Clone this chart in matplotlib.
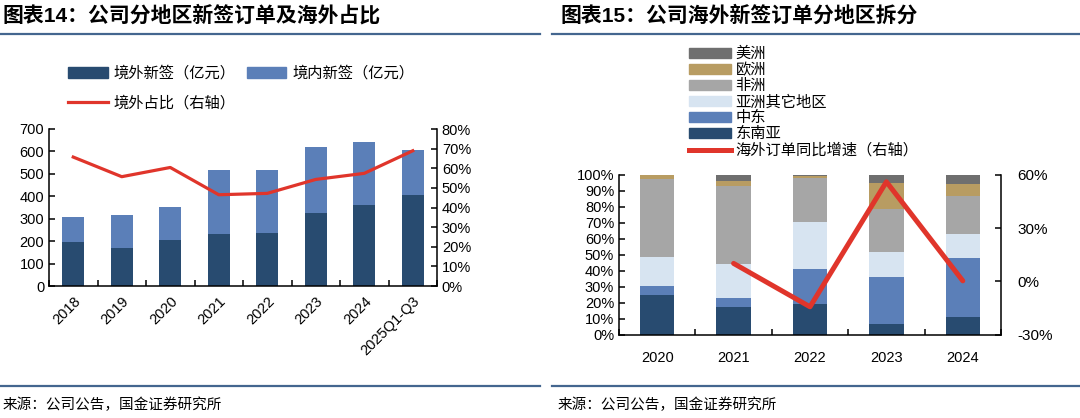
import matplotlib
matplotlib.use("Agg")
import matplotlib.pyplot as plt
import numpy as np
from matplotlib.patches import Patch
from matplotlib.lines import Line2D
from matplotlib.ticker import FuncFormatter, MultipleLocator

plt.rcParams['font.family'] = ['Liberation Sans', 'Noto Sans CJK SC', 'DejaVu Sans']

# ---------------- data: chart 14 ----------------
years14 = ["2018", "2019", "2020", "2021", "2022", "2023", "2024", "2025Q1-Q3"]
overseas = [196, 171, 205, 230, 238, 325, 360, 406]
domestic = [113, 145, 146, 289, 281, 296, 280, 202]
overseas_share = [65.7, 55.7, 60.4, 46.5, 47.2, 54.3, 57.4, 68.9]

# ---------------- data: chart 15 ----------------
years15 = ["2020", "2021", "2022", "2023", "2024"]
sea = [25.0, 17.5, 19.0, 6.5, 11.3]        # 东南亚
mideast = [5.6, 5.6, 22.0, 29.3, 36.6]     # 中东
other_asia = [18.2, 21.1, 29.4, 16.1, 15.0]  # 亚洲其它地区
africa = [48.3, 48.9, 27.7, 26.9, 23.8]    # 非洲
europe = [2.9, 2.7, 1.1, 16.2, 7.5]        # 欧洲
america = [0.0, 4.2, 0.8, 5.0, 5.8]        # 美洲
growth = [np.nan, 10.1, -14.3, 56.0, 0.3]  # 海外订单同比增速（右轴）

C_DARK = "#284b70"
C_MID = "#5b7fb8"
C_RED = "#e0352b"
C_PALE = "#d7e4f1"
C_GREY = "#a6a6a6"
C_TAN = "#b89c62"
C_DGREY = "#6f6f6f"
RULE = "#44668f"

W, H = 1080, 418
fig = plt.figure(figsize=(W / 100, H / 100), dpi=100)

def fx(px):
    return px / W

def fy(py):
    return (H - py) / H

TICK_FS = 10.5
LEG_FS = 11

def style_axes(ax):
    ax.spines['top'].set_visible(False)
    for s in ['left', 'right', 'bottom']:
        ax.spines[s].set_linewidth(1.1)
    ax.tick_params(direction='in', length=4, width=1.1, labelsize=TICK_FS)

# ---------------- chart 14 ----------------
ax1 = fig.add_axes([fx(49), fy(286), fx(437) - fx(49), fy(129) - fy(286)])
x = np.arange(len(years14))
ax1.bar(x, overseas, width=0.45, color=C_DARK, zorder=2)
ax1.bar(x, domestic, width=0.45, bottom=overseas, color=C_MID, zorder=2)
ax1.set_xlim(-0.5, len(years14) - 0.5)
ax1.set_ylim(0, 700)
ax1.yaxis.set_major_locator(MultipleLocator(100))
ax1.set_xticks(x)
ax1.set_xticklabels(years14, rotation=45, ha='right', rotation_mode='anchor', fontsize=TICK_FS)
ax1.set_xticks(np.arange(-0.5, len(years14), 1.0), minor=True)
style_axes(ax1)
ax1.tick_params(axis='x', which='major', length=0, pad=6)
ax1.tick_params(axis='x', which='minor', direction='in', length=4, width=1.1)
ax1.spines['right'].set_visible(False)

ax1r = ax1.twinx()
ax1r.plot(x, overseas_share, color=C_RED, lw=2.3, zorder=3)
ax1r.set_ylim(0, 80)
ax1r.yaxis.set_major_locator(MultipleLocator(10))
ax1r.yaxis.set_major_formatter(FuncFormatter(lambda v, p: f"{v:.0f}%"))
style_axes(ax1r)
ax1r.spines['left'].set_visible(False)
ax1r.spines['bottom'].set_visible(False)

h14 = [Patch(color=C_DARK), Line2D([], [], color=C_RED, lw=2.3), Patch(color=C_MID)]
l14 = ["境外新签（亿元）", "境外占比（右轴）", "境内新签（亿元）"]
fig.legend(h14, l14, ncol=2, loc='upper left', bbox_to_anchor=(fx(68), fy(66)),
           frameon=False, fontsize=LEG_FS, borderaxespad=0, borderpad=0,
           handlelength=2.6, handletextpad=0.4, columnspacing=0.7, labelspacing=1.0)

# ---------------- chart 15 ----------------
ax2 = fig.add_axes([fx(619), fy(334.7), fx(1001) - fx(619), fy(174.7) - fy(334.7)])
x2 = np.arange(len(years15))
stack = [(sea, C_DARK, "东南亚"), (mideast, C_MID, "中东"), (other_asia, C_PALE, "亚洲其它地区"),
         (africa, C_GREY, "非洲"), (europe, C_TAN, "欧洲"), (america, C_DGREY, "美洲")]
bottom = np.zeros(len(years15))
for vals, col, lab in stack:
    v = np.array(vals)
    ax2.bar(x2, v, width=0.45, bottom=bottom, color=col, zorder=2)
    bottom += v
ax2.set_xlim(-0.5, len(years15) - 0.5)
ax2.set_ylim(0, 100)
ax2.yaxis.set_major_locator(MultipleLocator(10))
ax2.yaxis.set_major_formatter(FuncFormatter(lambda v, p: f"{v:.0f}%"))
ax2.set_xticks(x2)
ax2.set_xticklabels(years15, fontsize=TICK_FS + 0.5)
ax2.set_xticks(np.arange(-0.5, len(years15), 1.0), minor=True)
style_axes(ax2)
ax2.tick_params(axis='x', which='major', length=0, pad=12)
ax2.tick_params(axis='x', which='minor', direction='in', length=4, width=1.1)
ax2.spines['right'].set_visible(False)

ax2r = ax2.twinx()
ax2r.plot(x2, growth, color=C_RED, lw=3.6, zorder=3, solid_capstyle='round')
ax2r.set_ylim(-30, 60)
ax2r.yaxis.set_major_locator(MultipleLocator(30))
ax2r.yaxis.set_major_formatter(FuncFormatter(lambda v, p: f"{v:.0f}%"))
style_axes(ax2r)
ax2r.tick_params(axis='y', pad=12, labelsize=TICK_FS + 0.5)
ax2r.spines['left'].set_visible(False)
ax2r.spines['bottom'].set_visible(False)

h15 = [Patch(color=c) for _, c, _ in stack[::-1]] + [Line2D([], [], color=C_RED, lw=3.6)]
l15 = [lab for _, _, lab in stack[::-1]] + ["海外订单同比增速（右轴）"]
fig.legend(h15, l15, loc='upper left', bbox_to_anchor=(fx(689), fy(47)),
           frameon=False, fontsize=LEG_FS, borderaxespad=0, borderpad=0,
           handlelength=2.75, handleheight=0.7, handletextpad=0.3, labelspacing=0.12)

# ---------------- titles, rules, sources ----------------
fig.text(fx(3), fy(15), "图表14：公司分地区新签订单及海外占比", fontsize=15, fontweight='bold',
         va='center', ha='left')
fig.text(fx(560), fy(15), "图表15：公司海外新签订单分地区拆分", fontsize=15, fontweight='bold',
         va='center', ha='left')
for (xa, xb) in [(0, 540), (552, 1080)]:
    for yy in (34, 386):
        fig.add_artist(Line2D([fx(xa), fx(xb)], [fy(yy), fy(yy)], color=RULE, lw=1.6))
fig.text(fx(3), fy(405), "来源：公司公告，国金证券研究所", fontsize=10.5, va='center', ha='left')
fig.text(fx(558), fy(405), "来源：公司公告，国金证券研究所", fontsize=10.5, va='center', ha='left')

fig.savefig("out.png", dpi=100)
